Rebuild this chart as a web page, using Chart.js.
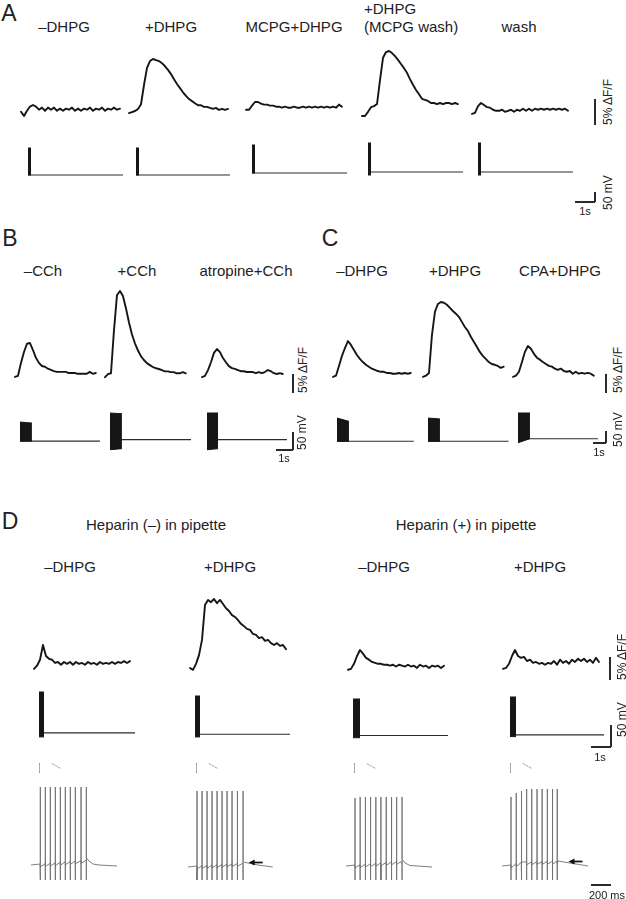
<!DOCTYPE html>
<html>
<head>
<meta charset="utf-8">
<script src="https://cdn.jsdelivr.net/npm/chart.js@4.4.0/dist/chart.umd.min.js"></script>
<style>
body { margin: 0; background: #fff; }
#fig { position: relative; width: 626px; height: 899px; overflow: hidden; font-family: "Liberation Sans", Arial, sans-serif; color: #222; }
#fig canvas { position: absolute; }
.t { position: absolute; white-space: nowrap; line-height: 1; }
.bar { position: absolute; background: #2a2a2a; }
.dash { position: absolute; border-left: 1px dashed #a0a0a0; }
.diag { position: absolute; border-top: 1px dashed #ababab; transform-origin: 0 0; transform: rotate(30deg); }
</style>
</head>
<body>
<div id="fig"></div>
<script>
// ---- calcium traces, dF/F in %, one sample per dt ----
const dtA = 0.15;
const dfA1 = [0.2,-0.6,0.4,1.2,1.5,1.2,0.6,1.0,0.4,1.0,0.6,1.0,0.4,0.8,0.4,0.8,0.6,1.0,0.4,0.8,0.4,0.8,0.6,1.0,0.4,0.8,0.6,1.0,0.4,0.8,0.6,1.0,0.6,0.8];
const dfA2 = [0,0.2,0.4,0.8,1.7,5.4,8.7,10.0,10.4,10.2,10.0,9.6,9.0,8.3,7.5,6.5,5.6,4.8,4.0,3.3,2.7,2.3,1.9,1.5,1.5,1.2,1.2,1.0,0.8,1.0,0.6,0.8,0.6,0.8];
const dfA3 = [0,0,0.8,1.5,1.5,1.2,1.0,1.0,0.8,0.8,0.6,0.6,0.4,0.6,0.4,0.4,0.6,0.4,0.4,0.6,0.4,0.6,0.4,0.6,0.4,0.6,0.4,0.6,0.4,0.6,0.4,1.0,0.6];
const dfA4 = [0,0,0.8,1.7,1.9,2.3,6.9,11.2,12.3,12.5,12.1,11.5,10.8,10.0,9.2,8.3,7.1,6.0,5.0,4.2,3.3,3.1,2.9,2.5,2.5,2.3,2.5,2.3,2.5,2.5,2.3,2.5,2.3];
const dfA5 = [0,0.2,1.5,2.1,1.7,1.3,1.2,0.8,0.6,0.6,0.8,0.4,0.6,0.8,0.4,0.8,0.6,1.0,0.6,1.0,0.6,1.0,0.8,1.0,0.8,1.0,0.8,1.0,0.8,1.0,0.8,1.0,0.6];

const dtB = 0.176;
const dfB1 = [0,0.3,3.6,6.4,8.5,8.7,6.9,4.9,3.6,2.8,2.6,2.1,1.8,1.5,1.3,1.3,1.3,1.3,1.0,1.0,1.0,0.8,0.8,0.8,0.8,1.3,0.8,1.0];
const dfB2 = [0,0.8,1.0,12.0,21.0,22.1,20.8,17.7,14.1,11.0,8.7,6.9,5.4,4.4,3.6,3.1,2.6,2.3,2.1,1.8,1.5,1.5,1.3,1.3,1.0,1.0,1.3,1.0];
const dfB3 = [0,0.3,1.8,3.8,6.2,7.2,6.4,4.9,3.8,2.8,2.3,2.1,1.8,1.5,1.5,1.3,1.3,1.3,1.0,1.3,1.0,1.3,1.8,1.5,1.0,0.8,1.0,0.8];

const dtC = 0.23;
const dfC1 = [0,0.3,2.8,5.4,7.4,9.2,8.2,6.9,5.6,4.6,3.8,3.1,2.6,2.1,1.8,1.5,1.3,1.3,1.0,1.0,0.8,0.8,1.0,0.8,1.0,0.8,1.0];
const dfC2 = [0,0.3,1.0,10.8,16.7,18.7,19.2,19.0,18.5,17.7,16.9,16.2,15.4,14.1,12.8,11.8,10.3,9.0,7.7,6.4,5.4,4.6,3.8,3.3,3.1,2.8,2.3,2.6];
const dfC3 = [0,0.3,1.3,3.8,6.4,7.9,7.2,5.9,4.9,4.4,3.8,3.3,2.8,2.6,2.1,1.8,2.1,1.5,1.3,1.5,0.8,1.3,0.8,1.0,0.8,1.0,0.8,0.3];

const dtD = 0.15;
const dfD1 = [0,0.7,2.0,5.2,2.8,2.2,2.0,1.3,1.5,0.9,1.5,1.1,1.5,0.9,1.5,1.1,1.3,0.9,1.5,1.1,1.3,0.9,1.5,1.1,1.3,1.1,1.5,1.1,1.5,1.3,1.7,1.3,1.7];
const dfD2 = [0,-0.4,0.9,2.8,6.1,13.7,14.8,14.3,15.0,14.1,14.8,13.9,13.0,12.4,11.5,11.1,10.4,9.6,9.1,8.5,8.3,7.4,7.2,6.5,6.7,5.9,6.1,5.4,5.0,5.4,4.8,5.0,4.1];
const dfD3 = [0,0.2,1.3,3.0,4.3,3.5,2.6,2.2,1.7,1.5,1.3,1.3,1.1,1.1,0.9,1.1,0.7,1.1,0.9,0.7,1.1,0.7,0.9,0.4,1.1,0.7,0.9,0.4,0.9,0.7,0.9,0.4,0.9];
const dfD4 = [0,0.2,1.1,2.8,4.1,2.8,2.4,2.6,1.7,2.0,1.3,1.5,1.1,1.3,0.9,1.3,1.1,1.7,0.9,2.0,1.3,1.7,1.1,2.0,1.5,2.2,1.7,2.2,1.5,2.0,1.3,2.4,1.5];

// ---- membrane potential during the burst (mV), burst length and sweep length (s) ----
const vRest = -65;
const vDurA = [0.15, 0.15, 0.15, 0.15, 0.15];
const vEndA = [4.75, 4.7, 4.75, 4.75, 4.75];
const vTopA = [[70, 70], [70, 70], [75, 75], [80, 80], [80, 80]];
const vLowA = [[-65, -65], [-65, -65], [-65, -65], [-80, -80], [-80, -80]];

const vDurB = [0.7, 0.7, 0.65];
const vEndB = [4.7, 4.76, 4.7];
const vTopB = [[-12, -15], [9, 7], [9, 9]];
const vLowB = [[-65, -65], [-93, -90], [-93, -90]];

const vDurC = [0.92, 0.92, 0.92];
const vEndC = [5.9, 6.2, 6.15];
const vTopC = [[32, 18], [32, 28], [42, 42]];
const vLowC = [[-65, -65], [-65, -65], [-82, -65]];

const vDurD = [0.25, 0.25, 0.35, 0.3];
const vEndD = [4.8, 4.75, 4.75, 4.7];
const vTopD = [[28, 28], [22, 22], [18, 18], [21, 21]];
const vLowD = [[-74, -74], [-71, -71], [-70, -70], [-69, -69]];

// ---- panel D spike trains (ms, mV) ----
const spT1 = [93, 143, 193, 243, 293, 343, 393, 443, 500, 553];
const spT2 = [90, 140, 190, 240, 290, 340, 390, 440, 494, 550];
const spT3 = [90, 141, 194, 245, 298, 349, 402, 455, 506, 560];
const spT4 = [90, 142, 193, 246, 297, 350, 401, 453, 505, 552];
const spPk1 = [13, 13, 13, 13, 13, 13, 13, 13, 13, 13];
const spPk2 = [11, 11, 11, 11, 11, 11, 11, 11, 11, 11];
const spPk3 = [3, 4, 4, 4, 4, 4, 4, 4, 4, 4];
const spPk4 = [4, 8, 10, 12, 12, 12, 12, 12, 12, 12];
const spLow = [-80, -78, -79, -79];
const memT1 = [0, 90, 553, 555, 580, 620, 680, 860];
const memV1 = [-65, -64, -60, -58, -61, -64, -65, -66];
const memT2 = [0, 90, 550, 552, 700, 847];
const memV2 = [-65, -64, -61, -60, -63, -65];
const memT3 = [0, 90, 560, 562, 590, 640, 860];
const memV3 = [-65, -64, -60, -58, -62, -64.5, -66];
const memT4 = [0, 90, 200, 552, 560, 860];
const memV4 = [-65, -64, -61, -60, -60, -65];
const ahpDepth = 3;

// ---- labels ----
const labA = ['–DHPG', '+DHPG', 'MCPG+DHPG', 'wash'];
const labB = ['–CCh', '+CCh', 'atropine+CCh'];
const labC = ['–DHPG', '+DHPG', 'CPA+DHPG'];
const labD = ['–DHPG', '+DHPG', '–DHPG', '+DHPG'];
const headD = ['Heparin (–) in pipette', 'Heparin (+) in pipette'];

// ---- scales of each panel (px per s, per %, per mV) ----
const pxSec = { A: 20, B: 17, C: 13, D: 20 };
const pxPct = { A: 5.2, B: 3.9, C: 3.9, D: 4.6 };
const pxMv = { A: 0.2, B: 0.36, C: 0.24, D: 0.44 };

const fig = document.getElementById('fig');
const INK = '#161616';

function text(str, x, y, size, align) {
  const d = document.createElement('div');
  d.className = 't';
  d.textContent = str;
  d.style.left = x + 'px';
  d.style.top = y + 'px';
  d.style.fontSize = size + 'px';
  d.style.transform = align === 'left' ? 'translate(0,-50%)' : 'translate(-50%,-50%)';
  fig.appendChild(d);
}
function rotText(str, cx, bottom, size) {
  const d = document.createElement('div');
  d.className = 't';
  d.textContent = str;
  d.style.left = cx + 'px';
  d.style.top = bottom + 'px';
  d.style.fontSize = size + 'px';
  d.style.transformOrigin = '0 0';
  d.style.transform = 'rotate(-90deg) translateY(-50%)';
  fig.appendChild(d);
}
function vbar(x, y1, y2) {
  const d = document.createElement('div');
  d.className = 'bar';
  Object.assign(d.style, { left: (x - 0.6) + 'px', top: y1 + 'px', width: '1.2px', height: (y2 - y1) + 'px' });
  fig.appendChild(d);
}
function hbar(x1, x2, y) {
  const d = document.createElement('div');
  d.className = 'bar';
  Object.assign(d.style, { left: x1 + 'px', top: (y - 0.6) + 'px', width: (x2 - x1) + 'px', height: '1.2px' });
  fig.appendChild(d);
}

// box: canvas rect in px; map: data (x0,y0) sits at pixel (px,py), kx/ky px per unit
function makeChart(box, map, datasets, plugins) {
  const c = document.createElement('canvas');
  const w = Math.round(box.w), h = Math.round(box.h);
  c.width = w; c.height = h;
  Object.assign(c.style, { left: box.x + 'px', top: box.y + 'px', width: w + 'px', height: h + 'px' });
  fig.appendChild(c);
  const xr = [(box.x - map.px) / map.kx + map.x0, (box.x + w - map.px) / map.kx + map.x0];
  const yr = [map.y0 + (map.py - box.y - h) / map.ky, map.y0 + (map.py - box.y) / map.ky];
  return new Chart(c, {
    type: 'line',
    data: { datasets: datasets },
    options: {
      responsive: false,
      animation: false,
      events: [],
      layout: { padding: 0 },
      elements: { point: { radius: 0 }, line: { tension: 0 } },
      plugins: { legend: { display: false }, tooltip: { enabled: false } },
      scales: {
        x: { type: 'linear', display: false, min: xr[0], max: xr[1] },
        y: { type: 'linear', display: false, min: yr[0], max: yr[1] }
      }
    },
    plugins: plugins || []
  });
}

function dfTrace(vals, dt, p, px, py) {
  const kx = pxSec[p], ky = pxPct[p];
  const w = (vals.length - 1) * dt * kx;
  const hi = Math.max(...vals) * ky, lo = Math.min(0, ...vals) * ky;
  const box = { x: px - 4, y: py - hi - 6, w: w + 8, h: hi - lo + 12 };
  makeChart(box, { x0: 0, y0: 0, px: px, py: py, kx: kx, ky: ky }, [{
    data: vals.map((v, i) => ({ x: i * dt, y: v })),
    borderColor: INK, borderWidth: 1.9, borderJoinStyle: 'round', borderCapStyle: 'round', fill: false
  }]);
}

function vTrace(dur, end, top, low, p, px, py) {
  const kx = pxSec[p], ky = pxMv[p];
  const hi = (Math.max(...top) - vRest) * ky, lo = (vRest - Math.min(...low)) * ky;
  const box = { x: px - 4, y: py - hi - 5, w: end * kx + 8, h: hi + lo + 10 };
  makeChart(box, { x0: 0, y0: vRest, px: px, py: py, kx: kx, ky: ky }, [
    { data: [{ x: 0, y: low[0] }, { x: dur, y: low[1] }], borderColor: INK, borderWidth: 1, fill: false },
    { data: [{ x: 0, y: top[0] }, { x: dur, y: top[1] }], borderColor: INK, borderWidth: 1, fill: '-1', backgroundColor: INK },
    { data: [{ x: 0, y: vRest }, { x: dur, y: vRest }, { x: end, y: vRest }], borderColor: '#2c2c2c', borderWidth: 1.1, fill: false }
  ]);
}

function memAt(t, mt, mv) {
  for (let i = 1; i < mt.length; i++) {
    if (t <= mt[i]) return mv[i - 1] + (mv[i] - mv[i - 1]) * (t - mt[i - 1]) / (mt[i] - mt[i - 1]);
  }
  return mv[mv.length - 1];
}

function arrowPlugin(t, v) {
  return {
    id: 'arrow',
    afterDatasetsDraw(chart) {
      const x = chart.scales.x.getPixelForValue(t), y = chart.scales.y.getPixelForValue(v);
      const ctx = chart.ctx;
      ctx.save();
      ctx.strokeStyle = '#111'; ctx.fillStyle = '#111'; ctx.lineWidth = 1.7;
      ctx.beginPath(); ctx.moveTo(x + 4, y); ctx.lineTo(x + 14, y); ctx.stroke();
      ctx.beginPath(); ctx.moveTo(x, y); ctx.lineTo(x + 6, y - 3); ctx.lineTo(x + 6, y + 3); ctx.closePath(); ctx.fill();
      ctx.restore();
    }
  };
}

function spikeTrace(spT, spPk, low, mt, mv, px, py, arrow) {
  const ev = mt.map((t, i) => ({ t: t, m: i })).concat(spT.map((t, i) => ({ t: t, s: i })));
  ev.sort((a, b) => a.t - b.t);
  const pts = [];
  ev.forEach(e => {
    if (e.m !== undefined) { pts.push({ x: e.t, y: mv[e.m] }); return; }
    const v = memAt(e.t, mt, mv);
    pts.push({ x: e.t, y: v }, { x: e.t, y: spPk[e.s] }, { x: e.t, y: low }, { x: e.t + 1.5, y: v - ahpDepth });
  });
  const end = mt[mt.length - 1];
  const kx = 0.1, ky = 1;
  const box = { x: px - 4, y: py - (Math.max(...spPk) - vRest) * ky - 4, w: end * kx + 8, h: (Math.max(...spPk) - low) * ky + 8 };
  makeChart(box, { x0: 0, y0: vRest, px: px, py: py, kx: kx, ky: ky }, [{
    data: pts, borderColor: '#707070', borderWidth: 0.9, fill: false
  }], arrow ? [arrowPlugin(arrow[0], arrow[1])] : []);
}

// ================= panel A =================
text('A', 9, 13, 23);
text(labA[0], 64, 26, 15);
text(labA[1], 171, 26, 15);
text(labA[2], 294, 26, 15);
text(labA[1], 364, 8, 15, 'left');
text('(MCPG wash)', 364, 26, 15, 'left');
text(labA[3], 519, 26, 15);

[[dfA1, 21, 113], [dfA2, 129, 113], [dfA3, 246, 110], [dfA4, 362, 116], [dfA5, 472, 114]]
  .forEach(r => dfTrace(r[0], dtA, 'A', r[1], r[2]));
const vxA = [28, 136, 252, 368, 478], vyA = [175, 175, 173, 172, 172];
vxA.forEach((x, i) => vTrace(vDurA[i], vEndA[i], vTopA[i], vLowA[i], 'A', x, vyA[i]));

vbar(595, 125 - 5 * pxPct.A, 125);
rotText('5% ΔF/F', 608, 125, 12);
vbar(595, 202 - 50 * pxMv.A, 202);
hbar(595 - pxSec.A, 595, 202);
text('1s', 585, 211, 11);
rotText('50 mV', 608, 210, 12);

// ================= panel B =================
text('B', 10, 238, 23);
text(labB[0], 43, 270, 15);
text(labB[1], 137, 270, 15);
text(labB[2], 246, 270, 15);
[[dfB1, 15], [dfB2, 105], [dfB3, 202]].forEach(r => dfTrace(r[0], dtB, 'B', r[1], 377));
const vxB = [20, 110, 207], vyB = [441, 439.3, 439.3];
vxB.forEach((x, i) => vTrace(vDurB[i], vEndB[i], vTopB[i], vLowB[i], 'B', x, vyB[i]));

vbar(293, 393 - 5 * pxPct.B, 393);
rotText('5% ΔF/F', 303, 393, 12);
vbar(293, 450 - 50 * pxMv.B, 450);
hbar(293 - pxSec.B, 293, 450);
text('1s', 284, 458, 11);
rotText('50 mV', 302, 450, 12);

// ================= panel C =================
text('C', 330, 238, 23);
text(labC[0], 362, 270, 15);
text(labC[1], 455, 270, 15);
text(labC[2], 560, 270, 15);
[[dfC1, 333], [dfC2, 423], [dfC3, 513]].forEach(r => dfTrace(r[0], dtC, 'C', r[1], 377));
const vxC = [337, 428, 518], vyC = [441.7, 441.7, 438.3];
vxC.forEach((x, i) => vTrace(vDurC[i], vEndC[i], vTopC[i], vLowC[i], 'C', x, vyC[i]));

vbar(606, 393 - 5 * pxPct.C, 393);
rotText('5% ΔF/F', 618, 393, 12);
vbar(606, 443 - 50 * pxMv.C, 443);
hbar(606 - pxSec.C, 606, 443);
text('1s', 599, 452, 11);
rotText('50 mV', 618, 447, 12);

// ================= panel D =================
text('D', 10, 521, 23);
text(headD[0], 156, 524, 15);
text(headD[1], 466, 524, 15);
[70, 230, 384, 540].forEach((x, i) => text(labD[i], x, 566, 15));

[[dfD1, 34, 669], [dfD2, 190, 668], [dfD3, 348, 670], [dfD4, 503, 669]]
  .forEach(r => dfTrace(r[0], dtD, 'D', r[1], r[2]));
const vxD = [39, 195, 353, 510], vyD = [732.7, 734.3, 736, 735];
vxD.forEach((x, i) => vTrace(vDurD[i], vEndD[i], vTopD[i], vLowD[i], 'D', x, vyD[i]));

vbar(610, 680 - 5 * pxPct.D, 680);
rotText('5% ΔF/F', 622, 680, 12);
vbar(611, 747 - 50 * pxMv.D, 747);
hbar(611 - pxSec.D, 611, 747);
text('1s', 600, 757, 11);
rotText('50 mV', 622, 737, 12);

// spike trains
const spX = [30.7, 188.3, 346, 502], spY = [865, 867.3, 866, 866];
spikeTrace(spT1, spPk1, spLow[0], memT1, memV1, spX[0], spY[0]);
spikeTrace(spT2, spPk2, spLow[1], memT2, memV2, spX[1], spY[1], [607, -60.5]);
spikeTrace(spT3, spPk3, spLow[2], memT3, memV3, spX[2], spY[2]);
spikeTrace(spT4, spPk4, spLow[3], memT4, memV4, spX[3], spY[3], [665, -60.5]);

// faint marks above the spike trains
spX.forEach(x => {
  const d = document.createElement('div');
  d.className = 'dash';
  Object.assign(d.style, { left: (x + 8) + 'px', top: '763px', height: '10px' });
  fig.appendChild(d);
  const g = document.createElement('div');
  g.className = 'diag';
  Object.assign(g.style, { left: (x + 21) + 'px', top: '763px', width: '10px' });
  fig.appendChild(g);
});

hbar(591, 591 + 200 * 0.1, 885);
text('200 ms', 607, 895, 11);
</script>
</body>
</html>
